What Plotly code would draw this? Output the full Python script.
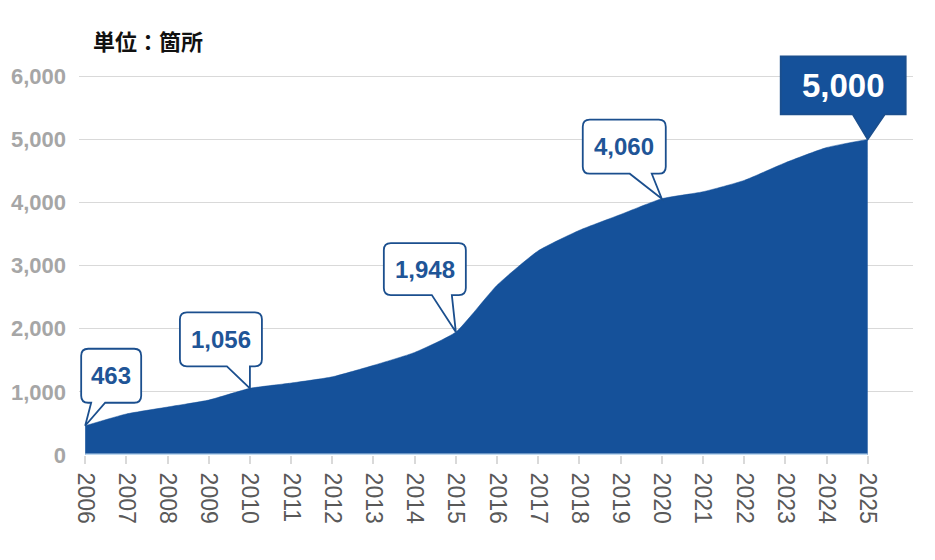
import plotly.graph_objects as go

# ---- data ----
years = list(range(2006, 2026))
counts = [463, 650, 760, 870, 1056, 1140, 1238, 1420, 1625, 1948,
          2690, 3235, 3560, 3810, 4060, 4170, 4350, 4630, 4870, 5000]
y_ticks = [0, 1000, 2000, 3000, 4000, 5000, 6000]
y_tick_text = [f"{v:,}" for v in y_ticks]
unit_label = "単位：箇所"
callout_years = [2006, 2010, 2015, 2020, 2025]

# ---- style ----
AREA = "#15519A"
EDGE = "#1B4F8E"
TEXT_BLUE = "#1F5597"
# bubble geometry in pixels relative to the data point (x right, y up):
# left, right, bottom, top, tail-base-left, tail-base-right, corner radius
callout_geom = {
    2006: (-4, 56, 23, 77, 6, 20, 7),
    2010: (-70, 12, 22, 76, -23, 0, 7),
    2015: (-72, 10, 37, 89, -24, -4, 7),
    2020: (-79, 4, 25, 79, -32, -10, 7),
    2025: (-87, 38, 25, 83, -15, 17, 0),
}


def bubble_path(L, R, B, T, t0, t1, r):
    p = [f"M{t1},{B}", f"L{R - r},{B}"]
    if r:
        p.append(f"Q{R},{B} {R},{B + r}")
    p.append(f"L{R},{T - r}")
    if r:
        p.append(f"Q{R},{T} {R - r},{T}")
    p.append(f"L{L + r},{T}")
    if r:
        p.append(f"Q{L},{T} {L},{T - r}")
    p.append(f"L{L},{B + r}")
    if r:
        p.append(f"Q{L},{B} {L + r},{B}")
    p.append(f"L{t0},{B}")
    p.append("L0,0 Z")
    return " ".join(p)


fig = go.Figure()
fig.add_trace(go.Scatter(
    x=years, y=counts, mode="lines", fill="tozeroy",
    line=dict(color=AREA, width=0.5, shape="spline", smoothing=0.5),
    fillcolor=AREA, hoverinfo="skip", showlegend=False,
))
# light blue baseline along the category axis
fig.add_trace(go.Scatter(
    x=[years[0], years[-1]], y=[0, 0], mode="lines",
    line=dict(color="#BDD7EE", width=3), cliponaxis=False,
    hoverinfo="skip", showlegend=False,
))

shapes = []
annotations = []
for yr in callout_years:
    v = counts[years.index(yr)]
    L, R, B, T, t0, t1, r = callout_geom[yr]
    last = yr == years[-1]
    shapes.append(dict(
        type="path", xref="x", yref="y",
        xsizemode="pixel", ysizemode="pixel",
        xanchor=yr, yanchor=v,
        path=bubble_path(L, R, B, T, t0, t1, r),
        fillcolor=AREA if last else "white",
        line=dict(color=EDGE, width=1.8),
        layer="above",
    ))
    annotations.append(dict(
        x=yr, y=v, xref="x", yref="y",
        xshift=(L + R) / 2, yshift=(B + T) / 2,
        text=f"{v:,}", showarrow=False,
        xanchor="center", yanchor="middle",
        font=dict(family="Liberation Sans, Arial, sans-serif",
                  size=33 if last else 24,
                  color="white" if last else TEXT_BLUE, weight="bold"),
    ))

fig.update_layout(
    width=935, height=560,
    margin=dict(l=71, r=30, t=43, b=113),
    paper_bgcolor="white", plot_bgcolor="white",
    showlegend=False,
    shapes=shapes, annotations=annotations,
    title=dict(
        text=unit_label, x=85 / 935, xanchor="left",
        y=1 - 34 / 560, yanchor="middle",
        font=dict(family="Noto Sans CJK JP, sans-serif", size=22,
                  color="#111111", weight="bold"),
    ),
    xaxis=dict(
        range=[2005.85, 2026.1], tickvals=years, ticktext=[str(y) for y in years],
        tickangle=90, ticks="outside", ticklen=8, tickwidth=2,
        tickcolor="#D9D9D9", showgrid=False, zeroline=False, showline=False,
        automargin=False, ticklabelstandoff=4,
        tickfont=dict(family="Liberation Sans, Arial, sans-serif",
                      size=23, color="#595959"),
    ),
    yaxis=dict(
        range=[0, 6400], tickvals=y_ticks, ticktext=y_tick_text,
        showgrid=True, gridcolor="#D9D9D9", gridwidth=1,
        zeroline=False, showline=False, ticks="",
        ticklabelstandoff=12, automargin=False,
        tickfont=dict(family="Liberation Sans, Arial, sans-serif",
                      size=22, color="#A6A6A6", weight="bold"),
    ),
)

fig.write_html("out.html")
